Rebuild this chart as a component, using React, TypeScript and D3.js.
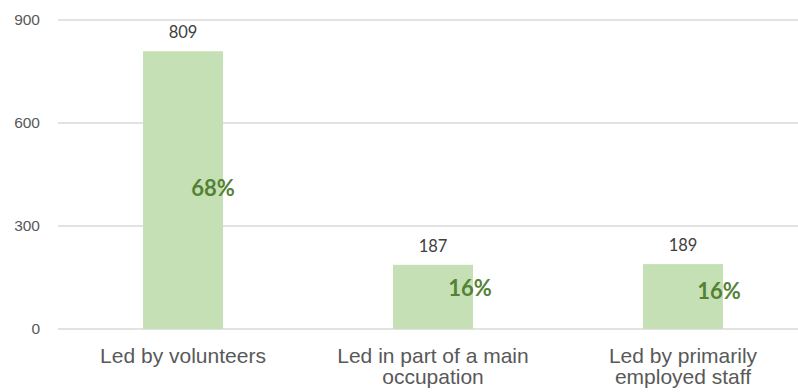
import React from "react";
import * as d3 from "d3";

const categories = [
  ["Led by volunteers"],
  ["Led in part of a main", "occupation"],
  ["Led by primarily", "employed staff"],
];
const values = [809, 187, 189];
const percents = ["68%", "16%", "16%"];
const yTicks = [0, 300, 600, 900];

const W = 798;
const H = 392;
const M = { left: 58, top: 20, bottom: 329 };
const pctOffsets = [
  [30, -2],
  [37, -9],
  [36, -5],
];

export default function App() {
  const x = d3
    .scaleBand<number>()
    .domain(values.map((_, i) => i))
    .range([M.left, M.left + 750])
    .paddingInner(0.68)
    .paddingOuter(0.34);
  const y = d3.scaleLinear().domain([0, 900]).range([M.bottom, M.top]);
  const bw = x.bandwidth();

  return (
    <svg
      width={W}
      height={H}
      style={{ position: "absolute", left: 0, top: 0, background: "#fff" }}
    >
      {yTicks.map((t) => (
        <g key={t}>
          <line x1={M.left} x2={W} y1={y(t)} y2={y(t)} stroke="#d9d9d9" strokeWidth={1.3} />
          <text
            x={40}
            y={y(t)}
            dy="0.35em"
            textAnchor="end"
            fontFamily="Liberation Sans, Arial, sans-serif"
            fontSize={15.5}
            fill="#595959"
          >
            {t}
          </text>
        </g>
      ))}
      {values.map((v, i) => {
        const bx = x(i)!;
        const cx = bx + bw / 2;
        return (
          <g key={i}>
            <rect x={bx} y={y(v)} width={bw} height={y(0) - y(v)} fill="#c5e0b4" />
            <text
              x={cx}
              y={y(v) - 19}
              dy="0.35em"
              textAnchor="middle"
              fontFamily="Lato, Carlito, sans-serif"
              fontSize={16.5}
              fill="#404040"
            >
              {v}
            </text>
            <text
              x={cx + pctOffsets[i][0]}
              y={y(v / 2) + pctOffsets[i][1]}
              dy="0.35em"
              textAnchor="middle"
              fontFamily="Lato, Carlito, sans-serif"
              fontWeight="bold"
              fontSize={22}
              fill="#548235"
            >
              {percents[i]}
            </text>
            {categories[i].map((line, j) => (
              <text
                key={j}
                x={cx}
                y={363 + j * 21}
                textAnchor="middle"
                fontFamily="Liberation Sans, Arial, sans-serif"
                fontSize={21}
                fill="#595959"
              >
                {line}
              </text>
            ))}
          </g>
        );
      })}
    </svg>
  );
}
